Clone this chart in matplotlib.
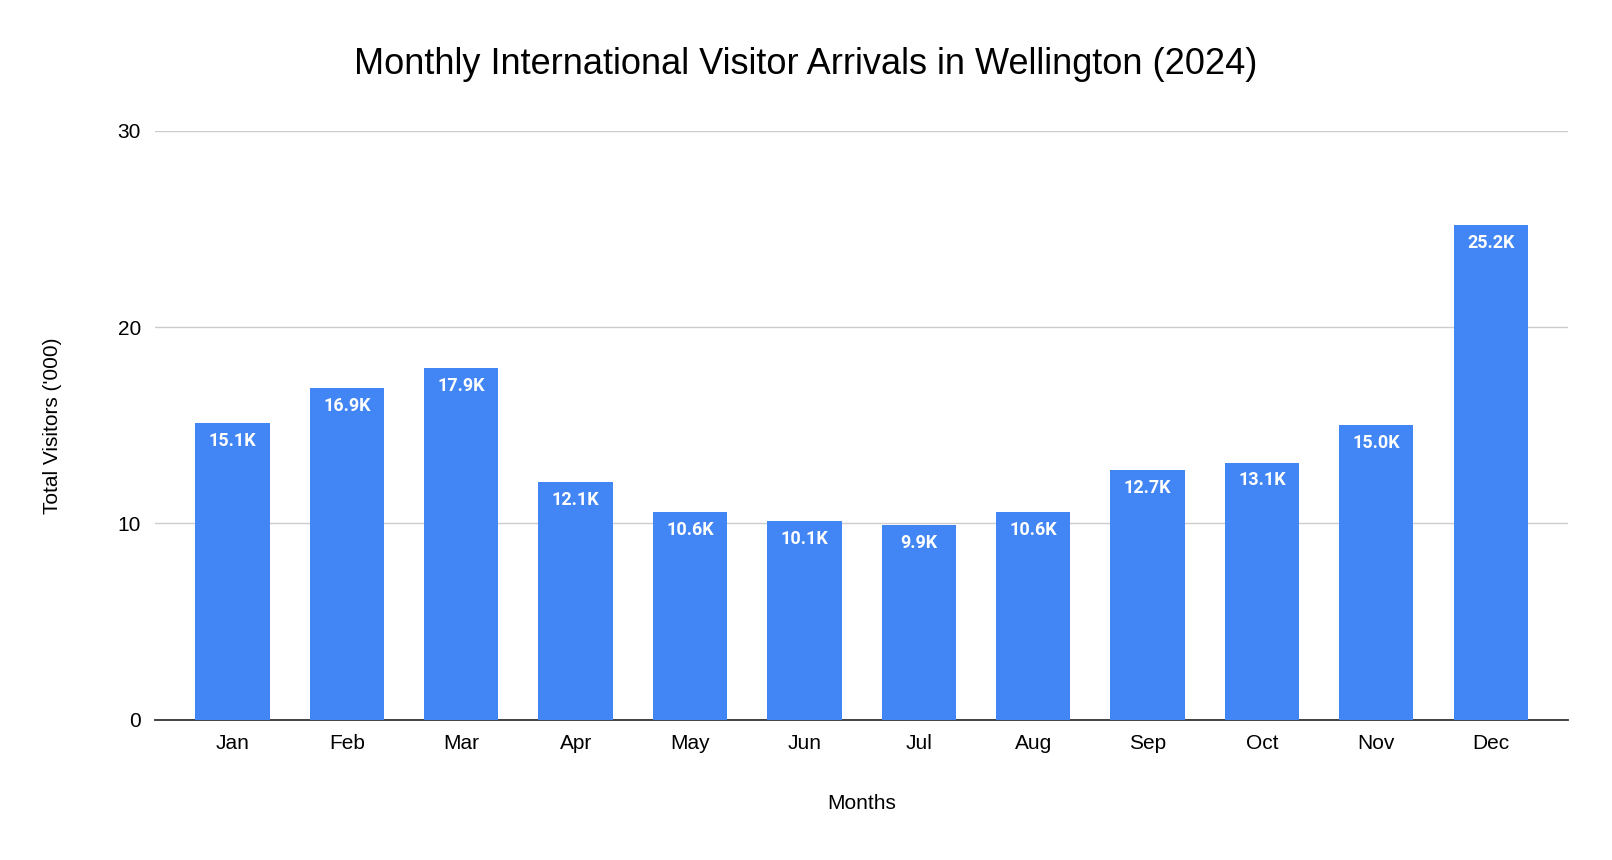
import matplotlib
matplotlib.use("Agg")
import matplotlib.pyplot as plt

months = ["Jan","Feb","Mar","Apr","May","Jun","Jul","Aug","Sep","Oct","Nov","Dec"]
visitors = [15.1,16.9,17.9,12.1,10.6,10.1,9.9,10.6,12.7,13.1,15.0,25.2]
labels = ["15.1K","16.9K","17.9K","12.1K","10.6K","10.1K","9.9K","10.6K","12.7K","13.1K","15.0K","25.2K"]

plt.rcParams['font.family'] = ['Liberation Sans', 'DejaVu Sans']
fig = plt.figure(figsize=(16.12, 8.60), dpi=100)
ax = fig.add_axes([0.096, 0.163, 0.877, 0.685])
x = range(len(months))
bars = ax.bar(x, visitors, width=0.65, color="#4285f4", zorder=3)
for b, v, l in zip(bars, visitors, labels):
    ax.text(b.get_x()+b.get_width()/2, v-0.45, l, ha="center", va="top",
            color="white", fontsize=13, fontweight="bold", family="Roboto", zorder=4)
ax.set_ylim(0, 30)
ax.set_xlim(-0.68, 11.68)
ax.set_yticks([0,10,20,30])
ax.set_xticks(list(x))
ax.set_xticklabels(months)
ax.tick_params(length=0, labelsize=15, pad=10)
ax.grid(axis="y", color="#cccccc", linewidth=1, zorder=0)
for s in ["top","right","left"]:
    ax.spines[s].set_visible(False)
ax.spines["bottom"].set_color("#333333")
ax.spines["bottom"].set_linewidth(1.3)
ax.set_xlabel("Months", fontsize=15, labelpad=30)
ax.set_ylabel("Total Visitors ('000)", fontsize=15, labelpad=40)
fig.text(0.5, 0.925, "Monthly International Visitor Arrivals in Wellington (2024)",
         ha="center", va="center", fontsize=26)
fig.savefig("out.png", dpi=100, facecolor="white")
